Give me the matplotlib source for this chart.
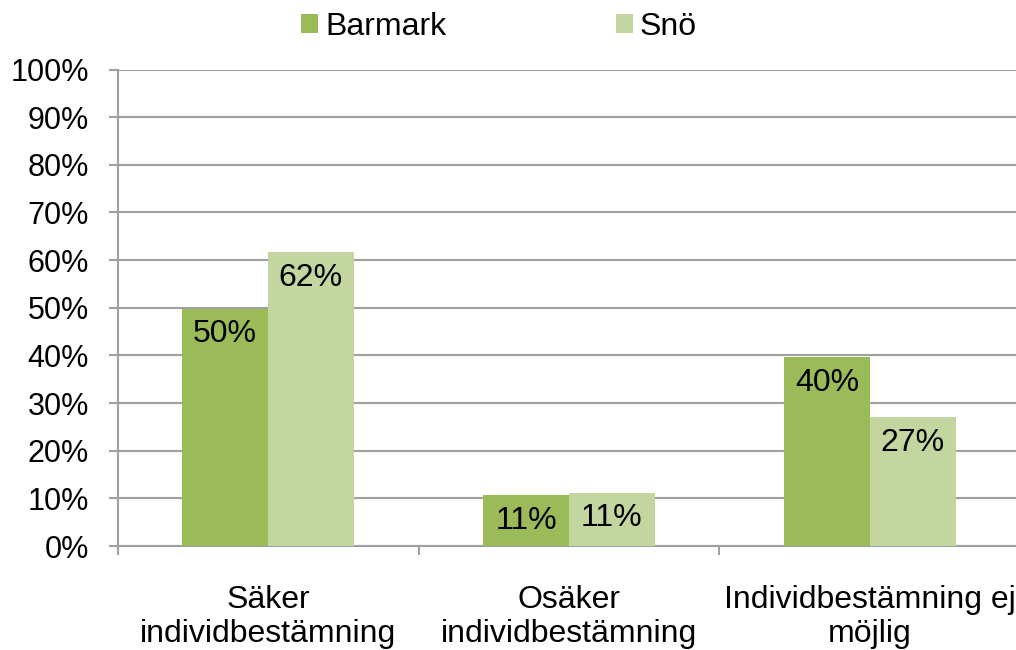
import matplotlib
matplotlib.use("Agg")
import matplotlib.pyplot as plt
import numpy as np

categories = ["Säker\nindividbestämning", "Osäker\nindividbestämning", "Individbestämning ej\nmöjlig"]
series_names = ["Barmark", "Snö"]
barmark = [49.8, 10.6, 39.6]
sno = [61.6, 11.2, 27.0]
y_ticks = list(range(0, 101, 10))

plt.rcParams['font.family'] = ['Liberation Sans', 'DejaVu Sans']
fs = 23
grey = "#A0A0A0"
colors = ["#9BBB59", "#C4D6A0"]

fig = plt.figure(figsize=(10.16, 6.5), dpi=100)
ax = fig.add_axes([117.5 / 1016, 1 - 546 / 650, 903 / 1016, (546 - 69.5) / 650])

x = np.arange(len(categories))
w = 0.285
for vals, name, col, off in [(barmark, series_names[0], colors[0], -w / 2), (sno, series_names[1], colors[1], w / 2)]:
    bars = ax.bar(x + off, vals, width=w, color=col, label=name, zorder=3)
    for b, v in zip(bars, vals):
        ax.annotate(f"{v:.0f}%", (b.get_x() + b.get_width() / 2, v), xytext=(0, -18.5),
                    textcoords="offset points", ha="center", va="center", fontsize=fs, zorder=4)

ax.set_xlim(-0.5, len(categories) - 0.5)
ax.set_ylim(0, 100)
ax.set_yticks(y_ticks)
ax.set_yticklabels([f"{t}%" for t in y_ticks], fontsize=22)
ax.yaxis.grid(True, color=grey, linewidth=1.5, zorder=0)
ax.tick_params(axis="y", length=6.5, width=1.5, color=grey, pad=14)

ax.set_xticks(x)
ax.set_xticklabels(categories, fontsize=fs, linespacing=1.17)
ax.tick_params(axis="x", which="major", length=0, pad=28)
ax.set_xticks(np.arange(-0.5, len(categories) + 0.5, 1), minor=True)
ax.tick_params(axis="x", which="minor", length=6.5, width=1.5, color=grey)

for s in ["top", "right"]:
    ax.spines[s].set_visible(False)
for s in ["left", "bottom"]:
    ax.spines[s].set_color(grey)
    ax.spines[s].set_linewidth(1.5)

fig.legend(loc="center", bbox_to_anchor=(499 / 1016, 1 - 27 / 650), ncol=2, frameon=False,
           fontsize=fs, handlelength=0.53, handleheight=0.53, handletextpad=0.22, columnspacing=5.3,
           borderpad=0)

fig.savefig("out.png", dpi=100)
